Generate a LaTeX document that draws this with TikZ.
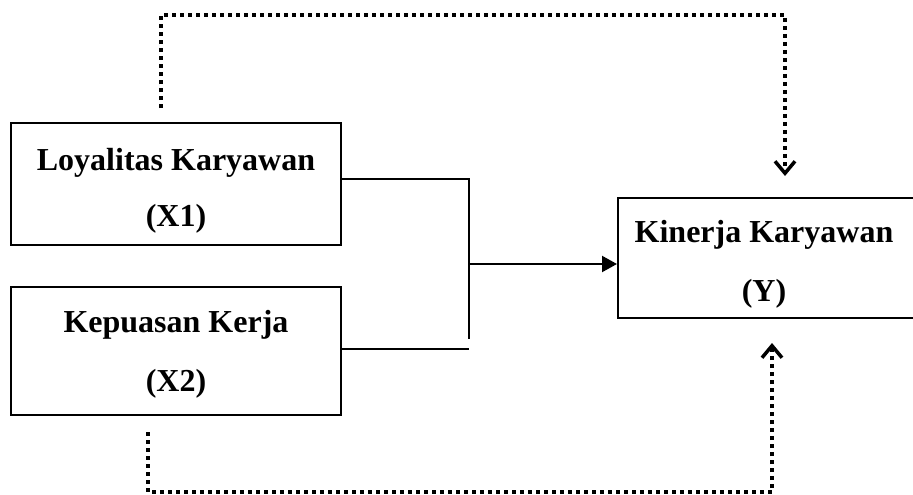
\documentclass[tikz,border=0pt]{standalone}
\usepackage{fontspec}
\setmainfont{Liberation Serif}
\usetikzlibrary{arrows.meta}
\tikzset{
  boxnode/.style={draw, line width=2pt, rectangle, inner sep=0pt},
  lbl/.style={anchor=base, inner sep=0pt, font=\fontsize{32}{36}\selectfont\bfseries},
  solidline/.style={line width=2.2pt},
  dotline/.style={line width=3.8pt, dash pattern=on 3.8pt off 4.2pt},
  dottip/.style={-{Straight Barb[length=12pt,width=20pt,line width=3.5pt]}},
}
\begin{document}
\begin{tikzpicture}[x=1pt,y=-1pt]
\useasboundingbox (0,0) rectangle (913,495);
% boxes
\node[boxnode, minimum width=330pt, minimum height=122pt] (b1) at (176,184) {};
\node[boxnode, minimum width=330pt, minimum height=128pt] (b2) at (176,351) {};
\node[boxnode, minimum width=300pt, minimum height=120pt, anchor=west] (by) at (617,258) {};
% labels
\node[lbl] (t1a) at (176,170) {Loyalitas Karyawan};
\node[lbl] (t1b) at (176,226) {(X1)};
\node[lbl] (t2a) at (176,332) {Kepuasan Kerja};
\node[lbl] (t2b) at (176,391) {(X2)};
\node[lbl] (tya) at (764,242) {Kinerja Karyawan};
\node[lbl] (tyb) at (764,301) {(Y)};
% solid connectors
\coordinate (j1) at (469,179);
\coordinate (j2) at (469,339);
\coordinate (j3) at (469,349);
\coordinate (jm) at (469,264);
\draw[solidline] (b1.east|-j1) -- (j1) -- (j2);
\draw[solidline] (b2.east|-j3) -- (j3);
\draw[solidline, -{Triangle[length=15pt,width=16pt]}] (jm) -- (by.west|-jm);
% dotted connectors
\coordinate (d1) at (161,108);
\coordinate (d2) at (161,15);
\coordinate (d3) at (785,15);
\coordinate (d4) at (785,176);
\draw[dotline, dottip] (d1) -- (d2) -- (d3) -- (d4);
\coordinate (e1) at (148,432);
\coordinate (e2) at (148,492);
\coordinate (e3) at (772,492);
\coordinate (e4) at (772,343);
\draw[dotline, dottip] (e1) -- (e2) -- (e3) -- (e4);
\end{tikzpicture}
\end{document}
